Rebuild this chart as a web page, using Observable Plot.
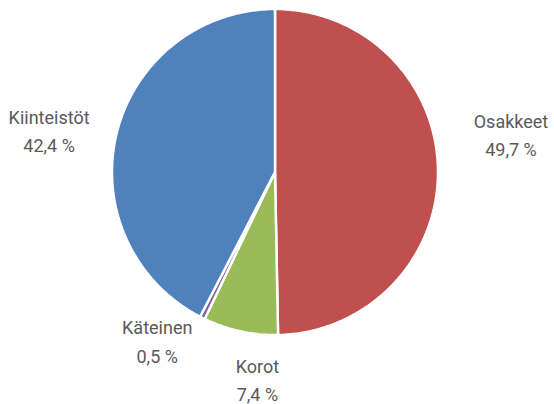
<!DOCTYPE html>
<html>
<head>
<meta charset="utf-8">
<script src="https://cdn.jsdelivr.net/npm/d3@7"></script>
<script src="https://cdn.jsdelivr.net/npm/@observablehq/plot@0.6"></script>
<style>
  html, body { margin: 0; padding: 0; background: #ffffff; }
  #chart { width: 554px; height: 404px; }
</style>
</head>
<body>
<div id="chart"></div>
<script>
// Data (clockwise from 12 o'clock)
const categories = ["Osakkeet", "Korot", "Käteinen", "Kiinteistöt"];
const shares = [49.7, 7.4, 0.5, 42.4];
const valueLabels = ["49,7 %", "7,4 %", "0,5 %", "42,4 %"];
const colors = ["#C0504D", "#9BBB59", "#8064A2", "#4F81BD"];

// Layout
const W = 554, H = 404;
const cx = 274.5, cy = 171.5, R = 163;
const labelR = 215;
const nudgeX = [21, 28, -22, -17];
const nudgeY = [-37, -4, -25, 8];

const pie = d3.pie().sort(null).value(d => d.share);
const data = categories.map((c, i) => ({name: c, share: shares[i], label: valueLabels[i], color: colors[i], i}));
const arcs = pie(data);

function pt(angle, r) { return [cx + r * Math.sin(angle), cy - r * Math.cos(angle)]; }

const features = arcs.map(a => {
  const coords = [[cx, cy]];
  const n = Math.max(2, Math.ceil((a.endAngle - a.startAngle) / (Math.PI / 180)));
  for (let k = 0; k <= n; k++) {
    coords.push(pt(a.startAngle + (a.endAngle - a.startAngle) * k / n, R));
  }
  coords.push([cx, cy]);
  return {type: "Feature", properties: {name: a.data.name, color: a.data.color}, geometry: {type: "Polygon", coordinates: [coords]}};
});

const labels = arcs.map(a => {
  const mid = (a.startAngle + a.endAngle) / 2;
  const [x, y] = pt(mid, labelR);
  const i = a.data.i;
  return {x: x + nudgeX[i], y: y + nudgeY[i], text: a.data.name + "\n" + a.data.label};
});

const chart = Plot.plot({
  width: W,
  height: H,
  margin: 0,
  projection: {type: "identity", domain: {type: "MultiPoint", coordinates: [[0, 0], [W, H]]}},
  style: {background: "#ffffff"},
  marks: [
    Plot.geo(features, {fill: d => d.properties.color, stroke: "#ffffff", strokeWidth: 2.5, strokeLinejoin: "miter"}),
    Plot.text(labels, {x: "x", y: "y", text: "text", fill: "#595959", fontSize: 18, lineHeight: 1.58, fontFamily: "Roboto, sans-serif", textAnchor: "middle"})
  ]
});
document.getElementById("chart").appendChild(chart);
</script>
</body>
</html>
